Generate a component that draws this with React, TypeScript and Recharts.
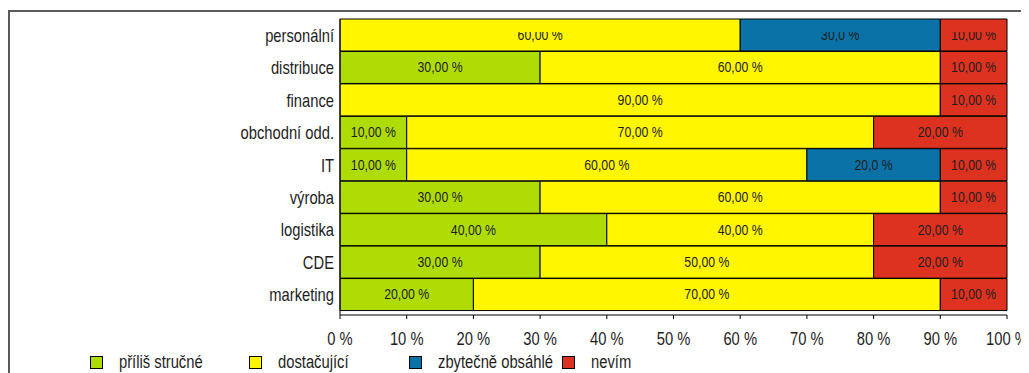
import { Bar, BarChart, LabelList, XAxis, YAxis } from "recharts";

// Answers per department, in percent of respondents.
const DEPARTMENTS = [
  "personální",
  "distribuce",
  "finance",
  "obchodní odd.",
  "IT",
  "výroba",
  "logistika",
  "CDE",
  "marketing",
];
const PRILIS_STRUCNE = [0, 30, 0, 10, 10, 30, 40, 30, 20];
const DOSTACUJICI = [60, 60, 90, 70, 60, 60, 40, 50, 70];
const ZBYTECNE_OBSAHLE = [30, 0, 0, 0, 20, 0, 0, 0, 0];
const NEVIM = [10, 10, 10, 20, 10, 10, 20, 20, 10];
const X_TICKS = [0, 10, 20, 30, 40, 50, 60, 70, 80, 90, 100];

const SERIES = [
  { key: "strucne", label: "příliš stručné", color: "#b0dc06", decimals: 2 },
  { key: "dostacujici", label: "dostačující", color: "#fff600", decimals: 2 },
  { key: "obsahle", label: "zbytečně obsáhlé", color: "#0b72a8", decimals: 1 },
  { key: "nevim", label: "nevím", color: "#de3220", decimals: 2 },
];

// legend item widths, the original spacing is uneven
const LEGEND_WIDTHS = [159, 160, 153, 80];

// no Arial Narrow here, so squeeze Liberation Sans horizontally
const FONT = "'Liberation Sans', Arial, sans-serif";
const NARROW = 0.82;
const TEXT = "#1e1e1e";

const data = DEPARTMENTS.map((name, i) => ({
  name,
  strucne: PRILIS_STRUCNE[i],
  dostacujici: DOSTACUJICI[i],
  obsahle: ZBYTECNE_OBSAHLE[i],
  nevim: NEVIM[i],
}));

const fmt = (v: number, decimals: number) => `${v.toFixed(decimals).replace(".", ",")} %`;

function NarrowText({
  x,
  y,
  anchor,
  size,
  children,
  clip,
}: {
  x: number;
  y: number;
  anchor: "start" | "middle" | "end";
  size: number;
  children: any;
  clip?: string;
}) {
  const t = (
    <text
      transform={`translate(${x},${y}) scale(${NARROW},1)`}
      x={0}
      y={0}
      textAnchor={anchor}
      dominantBaseline="central"
      fontSize={size}
      fontFamily={FONT}
      fill={TEXT}
    >
      {children}
    </text>
  );
  return clip ? <g clipPath={clip}>{t}</g> : t;
}

function makeLabel(decimals: number) {
  return (props: any) => {
    const { x, y, width, height, value, index } = props;
    if (!value) return null;
    return (
      <NarrowText
        x={Number(x) + Number(width) / 2}
        y={Number(y) + Number(height) / 2}
        anchor="middle"
        size={15}
        // the top row's labels are cut off in the original
        clip={index === 0 ? "url(#topRowClip)" : undefined}
      >
        {fmt(Number(value), decimals)}
      </NarrowText>
    );
  };
}

const XTick = (props: any) => (
  <NarrowText x={props.x} y={props.y + 11} anchor="middle" size={18}>
    {`${props.payload.value} %`}
  </NarrowText>
);

const YTick = (props: any) => (
  <NarrowText x={props.x} y={props.y} anchor="end" size={18}>
    {props.payload.value}
  </NarrowText>
);

export default function App() {
  return (
    <div style={{ position: "relative", width: 1021, height: 365, background: "#fff" }}>
      <div
        style={{
          position: "absolute",
          left: 0,
          top: 2,
          right: 0,
          bottom: 0,
          borderTop: "2px solid #5a5a5a",
          borderLeft: "2px solid #5a5a5a",
        }}
      />
      <div style={{ position: "absolute", left: 0, top: 0 }}>
        <BarChart
          width={1021}
          height={357}
          data={data}
          layout="vertical"
          barCategoryGap={0}
          margin={{ top: 11, right: 22, bottom: 0, left: 0 }}
        >
          <defs>
            <clipPath id="topRowClip" clipPathUnits="userSpaceOnUse">
              <rect x={0} y={24} width={1021} height={400} />
            </clipPath>
          </defs>
          <XAxis
            type="number"
            domain={[0, 100]}
            ticks={X_TICKS}
            interval={0}
            height={50}
            stroke="#000"
            tickSize={4}
            tickMargin={8}
            tick={<XTick />}
          />
          <YAxis
            type="category"
            dataKey="name"
            width={332}
            padding={{ top: 0, bottom: 4 }}
            stroke="#000"
            tickLine={false}
            tickSize={0}
            tickMargin={6}
            tick={<YTick />}
          />
          {SERIES.map((s) => (
            <Bar
              key={s.key}
              dataKey={s.key}
              name={s.label}
              stackId="a"
              fill={s.color}
              stroke="#000"
              strokeWidth={1}
              isAnimationActive={false}
            >
              <LabelList dataKey={s.key} content={makeLabel(s.decimals)} />
            </Bar>
          ))}
        </BarChart>
      </div>
      <div
        style={{
          position: "absolute",
          left: 82,
          top: 344,
          display: "flex",
          fontFamily: FONT,
          fontSize: 18,
          color: TEXT,
        }}
      >
        {SERIES.map((s, i) => (
          <div key={s.key} style={{ width: LEGEND_WIDTHS[i], display: "flex", alignItems: "center" }}>
            <span
              style={{
                display: "inline-block",
                flex: "none",
                width: 11,
                height: 11,
                background: s.color,
                border: "1.5px solid #000",
                marginRight: 16,
              }}
            />
            <span
              style={{
                display: "inline-block",
                whiteSpace: "nowrap",
                transform: `scaleX(${NARROW})`,
                transformOrigin: "left center",
              }}
            >
              {s.label}
            </span>
          </div>
        ))}
      </div>
    </div>
  );
}
